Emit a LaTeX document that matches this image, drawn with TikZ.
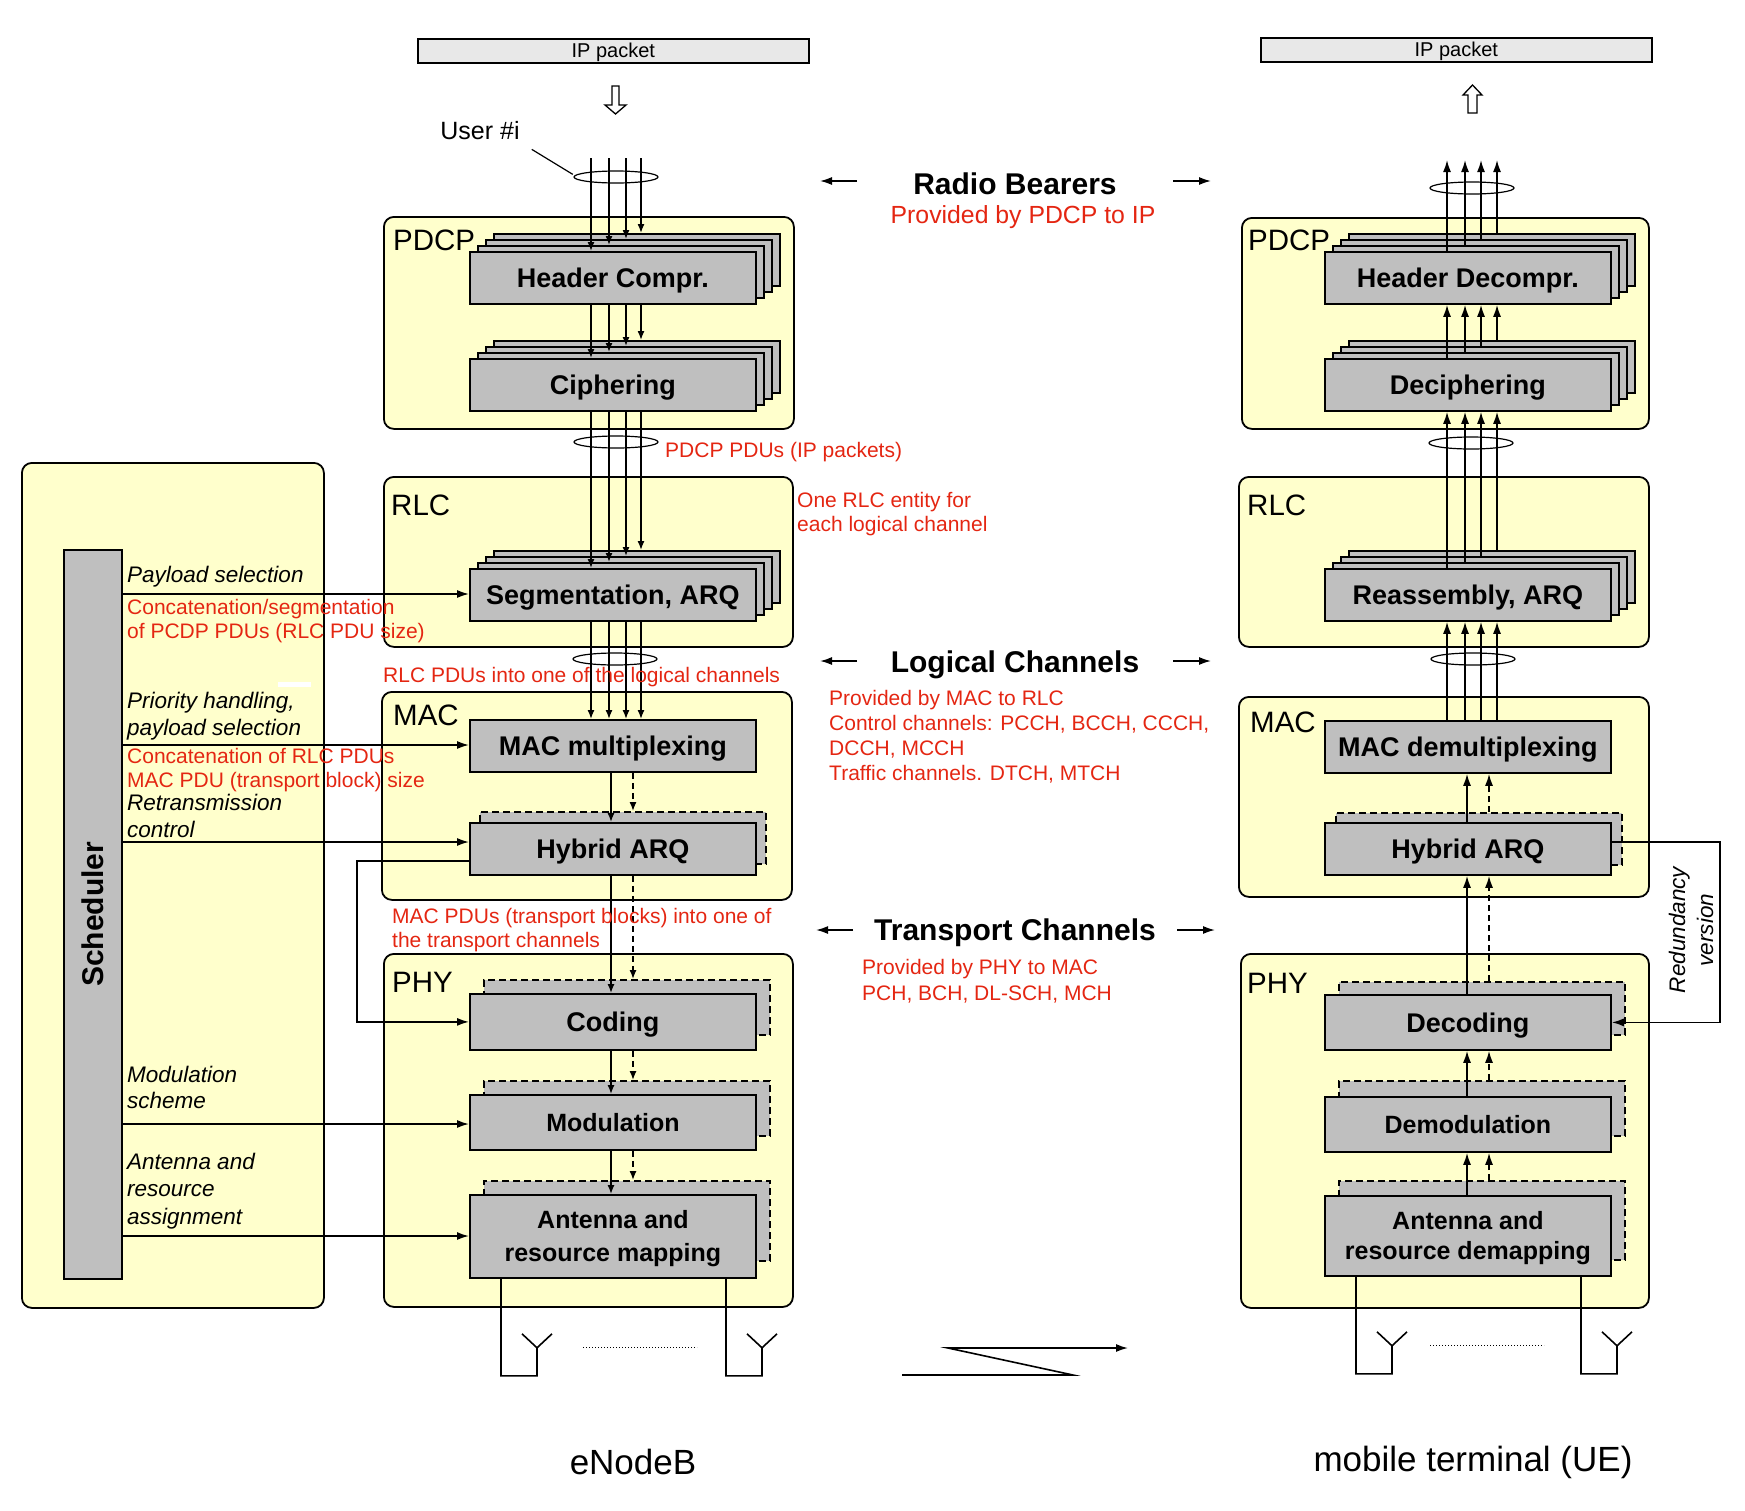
\documentclass[tikz,border=0pt]{standalone}
\usepackage{fontspec}
\setmainfont{Liberation Sans}
\usetikzlibrary{arrows.meta}

\definecolor{layyellow}{RGB}{255,255,204}
\definecolor{funcgray}{RGB}{191,191,191}
\definecolor{ipgray}{RGB}{232,232,232}
\definecolor{notered}{RGB}{228,38,18}

\tikzset{
  layer/.style={draw,line width=1.8,fill=layyellow,rounded corners=10,anchor=north west,inner sep=0},
  laytext/.style={anchor=west,inner sep=0,font=\fontsize{29.5}{32}\selectfont},
  func/.style={draw,line width=1.8,fill=funcgray,anchor=north west,inner sep=0,
    minimum width=286,minimum height=52,align=center,text height=19.3,text depth=0,
    font=\bfseries\fontsize{27}{33}\selectfont},
  ghost/.style={func,dash pattern=on 7pt off 4pt},
  note/.style={anchor=west,inner sep=0,align=left,text=notered,font=\fontsize{21}{24.5}\selectfont},
  cmd/.style={anchor=west,inner sep=0,align=left,font=\itshape\fontsize{22.5}{26.5}\selectfont},
  chan/.style={inner sep=0,text height=21.5,text depth=0,font=\bfseries\fontsize{30}{34}\selectfont},
  flow/.style={line width=1.4,-{Latex[length=9,width=7]}},
  bigflow/.style={line width=1.6,-{Latex[length=12,width=8]}},
  dflow/.style={flow,dash pattern=on 6pt off 4pt},
  dbigflow/.style={bigflow,dash pattern=on 6pt off 4pt},
  wire/.style={line width=1.6},
  bundle/.style={line width=1.2},
  ipbox/.style={draw,line width=1.6,fill=ipgray,anchor=north west,inner sep=0,
    minimum width=391,minimum height=24,text height=14.3,text depth=0,font=\fontsize{20}{22}\selectfont},
}

\begin{document}
\begin{tikzpicture}[x=1pt,y=-1pt]
\useasboundingbox (0,0) rectangle (1745,1510);

% layer boxes
\node[layer,minimum width=302,minimum height=845] (sched) at (21,462) {};
\node[layer,minimum width=410,minimum height=212] (pdcpA) at (383,216) {};
\node[layer,minimum width=409,minimum height=170] (rlcA) at (383,476) {};
\node[layer,minimum width=410,minimum height=208] (macA) at (381,691) {};
\node[layer,minimum width=409,minimum height=353] (phyA) at (383,953) {};
\node[layer,minimum width=407,minimum height=211] (pdcpB) at (1241,217) {};
\node[layer,minimum width=410,minimum height=170] (rlcB) at (1238,476) {};
\node[layer,minimum width=410,minimum height=200] (macB) at (1238,696) {};
\node[layer,minimum width=408,minimum height=354] (phyB) at (1240,953) {};

\node[laytext] (pdcpAt) at (393,240) {PDCP};
\node[laytext] (rlcAt) at (391,505) {RLC};
\node[laytext] (macAt) at (393,715) {MAC};
\node[laytext] (phyAt) at (392,982) {PHY};
\node[laytext] (pdcpBt) at (1248,240) {PDCP};
\node[laytext] (rlcBt) at (1247,505) {RLC};
\node[laytext] (macBt) at (1250,722) {MAC};
\node[laytext] (phyBt) at (1247,983) {PHY};

% ip packets
\node[ipbox] (ipA) at (417,38) {IP packet};
\node[ipbox] (ipB) at (1260,37) {IP packet};
\draw[line width=1.3,fill=white] (612,86) -- (619,86) -- (619,105) -- (626,105) -- (615.5,114) -- (605,105) -- (612,105) -- cycle;
\draw[line width=1.3,fill=white] (1468,113) -- (1477,113) -- (1477,95) -- (1482,95) -- (1472.5,85) -- (1463,95) -- (1468,95) -- cycle;

% scheduler
\node[draw,line width=1.8,fill=funcgray,anchor=north west,inner sep=0,minimum width=58,minimum height=729] (bar) at (63,549) {};
\node[chan,rotate=90] (bart) at (bar.center) {Scheduler};
\fill[white] (278,682) rectangle (311,687);

% eNodeB functions
\foreach \k in {3,2,1} {
  \node[func] (hc\k) at ({469+8*\k},{251-6*\k}) {};
  \node[func] (ci\k) at ({469+8*\k},{358-6*\k}) {};
  \node[func] (sg\k) at ({469+8*\k},{568-6*\k}) {};
}
\node[func] (hc0) at (469,251) {Header Compr.};
\node[func] (ci0) at (469,358) {Ciphering};
\node[func] (sg0) at (469,568) {Segmentation, ARQ};
\node[func] (mux) at (469,719) {MAC multiplexing};
\node[ghost] (harqb) at (479,811) {};
\node[func] (harq) at (469,822) {Hybrid ARQ};
\node[ghost,minimum height=55] (codb) at (483,979) {};
\node[func,minimum height=56] (cod) at (469,993) {Coding};
\node[ghost,minimum height=55] (modb) at (483,1080) {};
\node[func,minimum height=55,text height=18,font=\bfseries\fontsize{25}{30}\selectfont] (mod) at (469,1094) {Modulation};
\node[ghost,minimum height=80] (antb) at (483,1180) {};
\node[func,minimum height=83,text height=51,text depth=0,font=\bfseries\fontsize{25}{33}\selectfont] (ant) at (469,1194) {Antenna and\\resource mapping};

% UE functions
\foreach \k in {3,2,1} {
  \node[func] (hd\k) at ({1324+8*\k},{251-6*\k}) {};
  \node[func] (dc\k) at ({1324+8*\k},{358-6*\k}) {};
  \node[func] (re\k) at ({1324+8*\k},{568-6*\k}) {};
}
\node[func] (hd0) at (1324,251) {Header Decompr.};
\node[func] (dc0) at (1324,358) {Deciphering};
\node[func] (re0) at (1324,568) {Reassembly, ARQ};
\node[func] (dmx) at (1324,720) {MAC demultiplexing};
\node[ghost] (uharqb) at (1335,812) {};
\node[func] (uharq) at (1324,822) {Hybrid ARQ};
\node[ghost,minimum height=53] (decb) at (1338,981) {};
\node[func,minimum height=55] (dec) at (1324,994) {Decoding};
\node[ghost,minimum height=55] (demb) at (1338,1080) {};
\node[func,minimum height=55,text height=18,font=\bfseries\fontsize{25}{30}\selectfont] (dem) at (1324,1096) {Demodulation};
\node[ghost,minimum height=79] (antdb) at (1338,1180) {};
\node[func,minimum height=80,text height=48,text depth=0,font=\bfseries\fontsize{25}{30}\selectfont] (antd) at (1324,1195) {Antenna and\\resource demapping};

% bundles of radio bearers / logical channels
\foreach \k/\x in {0/591,1/609,2/626,3/641} {
  \coordinate (ub\k) at (\x,158);
  \draw[flow] (ub\k) -- (ub\k |- hc\k.north);
  \draw[flow] (ub\k |- hc0.south) -- (ub\k |- ci\k.north);
  \draw[flow] (ub\k |- ci0.south) -- (ub\k |- sg\k.north);
  \draw[flow] (ub\k |- sg0.south) -- (ub\k |- mux.north);
}
\foreach \k/\x in {0/1447,1/1465,2/1481,3/1497} {
  \coordinate (db\k) at (\x,160);
  \draw[bigflow] (db\k |- hd\k.north) -- (db\k);
  \draw[bigflow] (db\k |- dc\k.north) -- (db\k |- hd0.south);
  \draw[bigflow] (db\k |- re\k.north) -- (db\k |- dc0.south);
  \draw[bigflow] (db\k |- dmx.north) -- (db\k |- re0.south);
}
\foreach \x/\y in {616/177,616/442,615/659,1472/188,1471/443,1473/659}
  \draw[bundle] (\x,\y) ellipse [x radius=42,y radius=6];

% transport blocks
\coordinate (es) at (611,0);
\coordinate (ed) at (633,0);
\coordinate (vs) at (1467,0);
\coordinate (vd) at (1489,0);
\foreach \a/\b/\c in {mux/harq/harqb,harq/cod/codb,cod/mod/modb,mod/ant/antb} {
  \draw[flow] (es |- \a.south) -- (es |- \b.north);
  \draw[dflow] (ed |- \a.south) -- (ed |- \c.north);
}
\foreach \a/\b/\c in {uharq/dmx/uharqb,dec/uharq/decb,dem/dec/demb,antd/dem/antdb} {
  \draw[bigflow] (vs |- \a.north) -- (vs |- \b.south);
  \draw[dbigflow] (vd |- \c.north) -- (vd |- \b.south);
}

% scheduler control
\foreach \dy/\t in {45/sg0,196/mux,293/harq,575/mod,687/ant} {
  \coordinate (s\t) at ([yshift=-\dy]bar.north east);
  \draw[bigflow] (s\t) -- (s\t -| \t.west);
}
\draw[bigflow] ([yshift=-39]harq.north west) -- ++(-112,0) |- (cod.west);
\draw[bigflow] ([yshift=-20]uharq.north east) -- ++(108,0) |- (dec.east);
\node[cmd,anchor=center,align=center,rotate=90,font=\itshape\fontsize{22.5}{28}\selectfont] (rv) at (1691,930) {Redundancy\\version};

\node[cmd] (c1) at (127,577) {Payload selection};
\node[cmd] (c2) at (127,716) {Priority handling,\\payload selection};
\node[cmd] (c3) at (127,816) {Retransmission\\control};
\node[cmd] (c4) at (127,1087.5) {Modulation\\scheme};
\node[cmd,font=\itshape\fontsize{22.5}{27.5}\selectfont] (c5) at (127,1191) {Antenna and\\resource\\assignment};

% notes
\node[note] (sgn) at (127,621) {Concatenation/segmentation\\of PCDP PDUs (RLC PDU size)};
\node[note] (mxn) at (127,770) {Concatenation of RLC PDUs\\MAC PDU (transport block) size};
\node[note] (pdun) at (665,452) {PDCP PDUs (IP packets)};
\node[note] (rlcn) at (797,514) {One RLC entity for\\each logical channel};
\node[note] (lgn) at (383,677) {RLC PDUs into one of the logical channels};
\node[note,font=\fontsize{21}{23.5}\selectfont] (trn) at (392,930) {MAC PDUs (transport blocks) into one of\\the transport channels};

% channel headings
\node[chan] (rb) at (1015,184) {Radio Bearers};
\node[note,anchor=center,font=\fontsize{24.8}{28}\selectfont] (rbn) at (1023,217) {Provided by PDCP to IP};
\node[chan] (lc) at (1015,662) {Logical Channels};
\node[note,font=\fontsize{21}{25}\selectfont] (lcn) at (829,737) {Provided by MAC to RLC\\Control channels: PCCH, BCCH, CCCH,\\DCCH, MCCH\\Traffic channels. DTCH, MTCH};
\node[chan] (tc) at (1015,930) {Transport Channels};
\node[note,font=\fontsize{21}{26}\selectfont] (tcn) at (862,981) {Provided by PHY to MAC\\PCH, BCH, DL-SCH, MCH};
\coordinate (rbl) at (857,181);
\coordinate (rbr) at (1173,181);
\coordinate (lcl) at (857,661);
\coordinate (lcr) at (1173,661);
\coordinate (tcl) at (853,930);
\coordinate (tcr) at (1177,930);
\foreach \n in {rb,lc,tc} {
  \draw[bigflow] (\n l) -- ++(-37,0);
  \draw[bigflow] (\n r) -- ++(38,0);
}

% user and antennas
\node[inner sep=0,font=\fontsize{25}{28}\selectfont] (user) at (480,131) {User \#i};
\draw[bundle] (user.south east) ++(12,9) -- ++(41,25);
\foreach \n/\d in {ant/114,antd/106} {
  \draw[wire] ([xshift=32]\n.south west) |- ++(36,97) -- ++(0,-28) coordinate (yy) -- ++(-15,-14) (yy) -- ++(15,-14);
  \draw[wire] ([xshift=257]\n.south west) |- ++(36,97) -- ++(0,-28) coordinate (yy) -- ++(-15,-14) (yy) -- ++(15,-14);
  \draw[line width=1,dotted] ([xshift=\d,yshift=-69]\n.south west) -- ++(114,0);
}
\coordinate (rl1) at (902,1375);
\coordinate (rl2) at (1073,1375);
\coordinate (rl3) at (948,1348);
\coordinate (rl4) at (1128,1348);
\draw[bigflow] (rl1) -- (rl2) -- (rl3) -- (rl4);

\node[inner sep=0,font=\fontsize{35}{40}\selectfont] (enb) at (633,1462) {eNodeB};
\node[inner sep=0,font=\fontsize{35}{40}\selectfont] (uet) at (1473,1462) {mobile terminal (UE)};
\end{tikzpicture}
\end{document}
